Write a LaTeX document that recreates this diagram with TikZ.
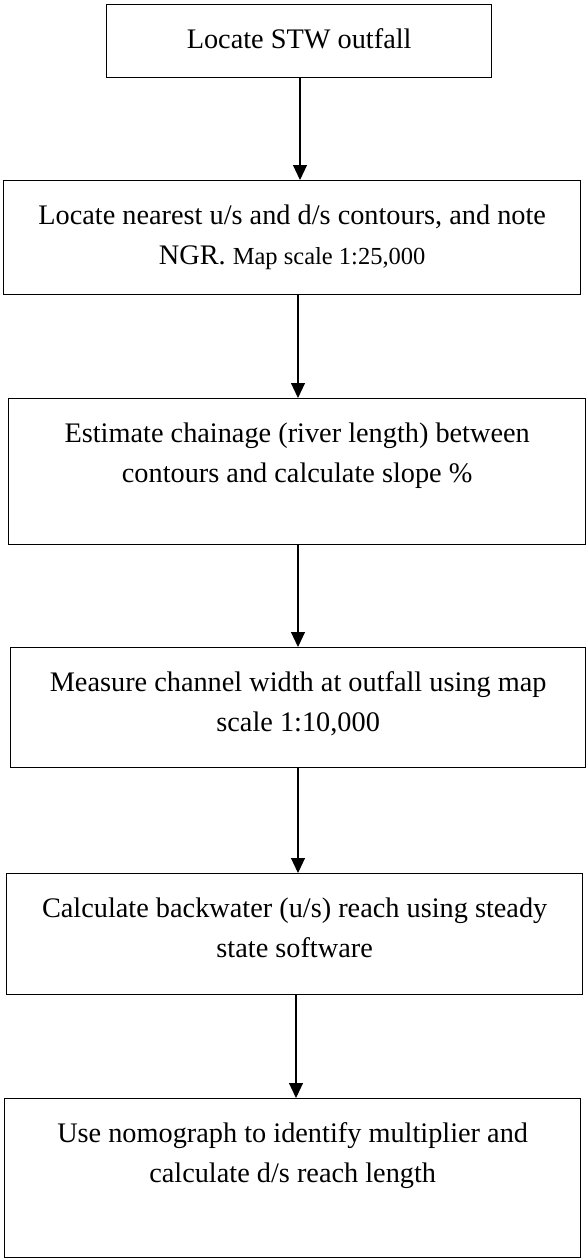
\documentclass[tikz,border=0pt]{standalone}
\usepackage{fontspec}
\setmainfont{Liberation Serif}
\usetikzlibrary{arrows.meta,calc}
\tikzset{
  stepbox/.style={draw=black, line width=1.3pt, fill=white, anchor=north west, inner sep=0pt},
  txt/.style={anchor=base, inner sep=0pt, font=\fontsize{28.3}{32}\selectfont},
  arr/.style={draw=black, line width=1.1pt, -{Triangle[length=15pt,width=14pt]}}
}
\begin{document}
\begin{tikzpicture}[x=1pt,y=-1pt]
\useasboundingbox (0,0) rectangle (586,1259);
% boxes
\node[stepbox, minimum width=385pt, minimum height=73pt] (b1) at (106,4) {};
\node[stepbox, minimum width=577pt, minimum height=114pt] (b2) at (3,180) {};
\node[stepbox, minimum width=577pt, minimum height=146pt] (b3) at (8,398) {};
\node[stepbox, minimum width=575pt, minimum height=120pt] (b4) at (10,647) {};
\node[stepbox, minimum width=576pt, minimum height=121pt] (b5) at (6,873) {};
\node[stepbox, minimum width=576pt, minimum height=159pt] (b6) at (4,1098) {};
% texts
\node[txt] (t1) at ($(b1.north)+(0,44)$) {Locate STW outfall};
\node[txt] (t2a) at ($(b2.north)+(0,44)$) {Locate nearest u/s and d/s contours, and note};
\node[txt] (t2b) at ($(b2.north)+(0,84)$) {NGR. {\fontsize{24.5}{28}\selectfont Map scale 1:25,000}};
\node[txt] (t3a) at ($(b3.north)+(0,44)$) {Estimate chainage (river length) between};
\node[txt] (t3b) at ($(b3.north)+(0,84)$) {contours and calculate slope \%};
\node[txt] (t4a) at ($(b4.north)+(0,44)$) {Measure channel width at outfall using map};
\node[txt] (t4b) at ($(b4.north)+(0,84)$) {scale 1:10,000};
\node[txt] (t5a) at ($(b5.north)+(0,44)$) {Calculate backwater (u/s) reach using steady};
\node[txt] (t5b) at ($(b5.north)+(0,84)$) {state software};
\node[txt] (t6a) at ($(b6.north)+(0,44)$) {Use nomograph to identify multiplier and};
\node[txt] (t6b) at ($(b6.north)+(0,84)$) {calculate d/s reach length};
% arrow columns
\coordinate (c1) at (300,0);
\coordinate (c2) at (298,0);
\coordinate (c3) at (298,0);
\coordinate (c4) at (298,0);
\coordinate (c5) at (296,0);
\draw[arr] (c1 |- b1.south) -- (c1 |- b2.north);
\draw[arr] (c2 |- b2.south) -- (c2 |- b3.north);
\draw[arr] (c3 |- b3.south) -- (c3 |- b4.north);
\draw[arr] (c4 |- b4.south) -- (c4 |- b5.north);
\draw[arr] (c5 |- b5.south) -- (c5 |- b6.north);
\end{tikzpicture}
\end{document}
